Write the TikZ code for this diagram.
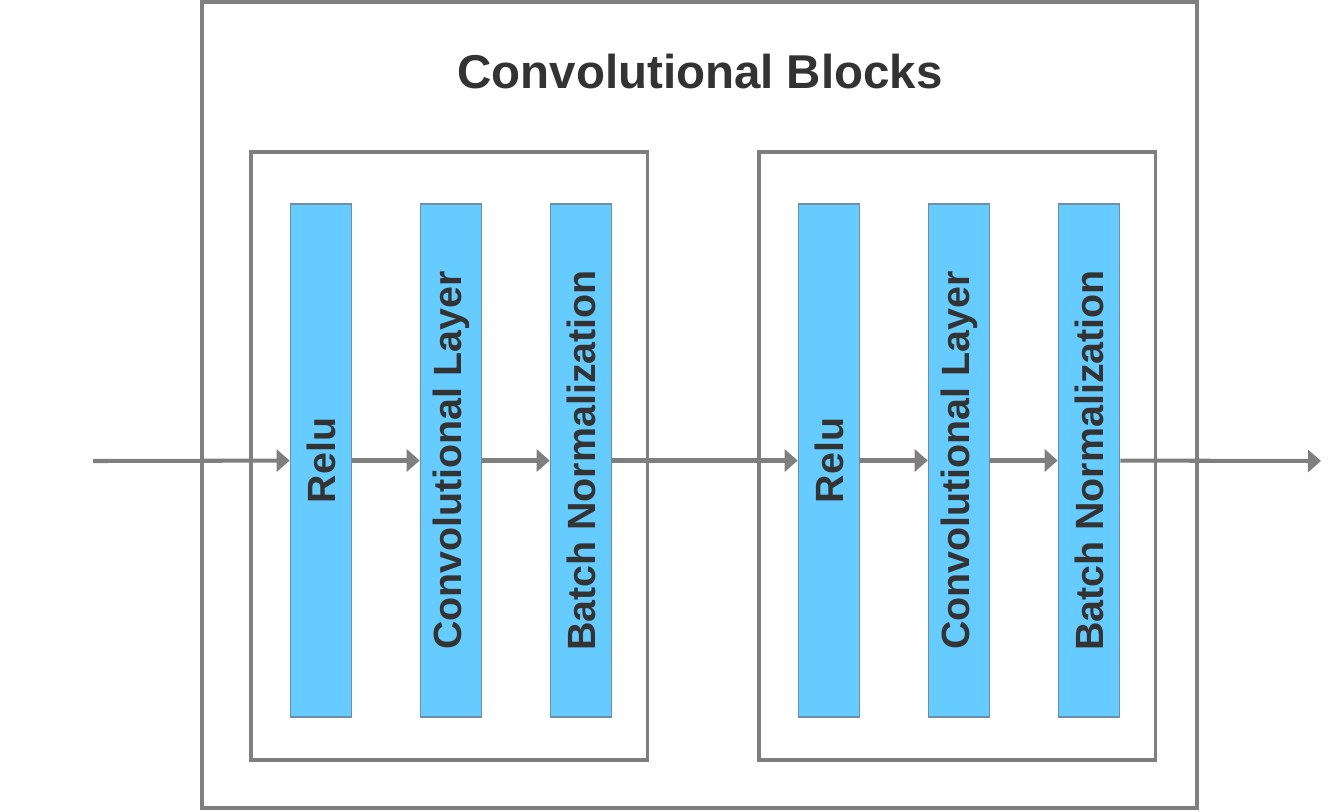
\documentclass[tikz,border=0pt]{standalone}
\usepackage{fontspec}
\setmainfont{Liberation Sans}
\usetikzlibrary{arrows.meta,positioning}

\definecolor{linegray}{HTML}{7F7F7F}
\definecolor{barblue}{HTML}{66CCFF}
\definecolor{barline}{HTML}{6E8EA4}
\definecolor{txtgray}{HTML}{333333}

\begin{document}
\begin{tikzpicture}[x=0.01cm, y=-0.01cm,
  layerbar/.style={draw=barline, fill=barblue, line width=0.45pt, rotate=90,
                   minimum width=5.13cm, minimum height=0.61cm, inner sep=0pt,
                   font=\bfseries\fontsize{11.2}{13}\selectfont, text=txtgray},
  blockbox/.style={draw=linegray, line width=1.1pt},
  flow/.style={draw=linegray, line width=1.15pt,
               -{Triangle[length=0.13cm, width=0.22cm]}}]

\useasboundingbox (0,0) rectangle (1332,811);

%% ---- Cornice esterna ----
\draw[blockbox] (202,2) rectangle (1197,808);
\node[font=\bfseries\fontsize{13.5}{16}\selectfont, text=txtgray] (title) at (700,72)
    {Convolutional Blocks};

%% ---- Blocchi interni ----
\foreach \b/\x in {1/251, 2/759} {
  \draw[blockbox] (\x,152) rectangle ({\x+396.5},760);
  \node[layerbar] (relu\b) at ({\x+70},460.5) {Relu};
  \node[layerbar] (conv\b) at ({\x+200},460.5) {Convolutional Layer};
  \node[layerbar] (bn\b)   at ({\x+330},460.5) {Batch Normalization};
}

%% ---- Ingresso / uscita ----
\coordinate (in)  at (93,461);
\coordinate (out) at (1321,461);

%% ---- Frecce ----
\draw[flow] (in) -- (relu1);
\draw[flow] (relu1) -- (conv1);
\draw[flow] (conv1) -- (bn1);
\draw[flow] (bn1) -- (relu2);
\draw[flow] (relu2) -- (conv2);
\draw[flow] (conv2) -- (bn2);
\draw[flow] (bn2) -- (out);

\end{tikzpicture}
\end{document}
